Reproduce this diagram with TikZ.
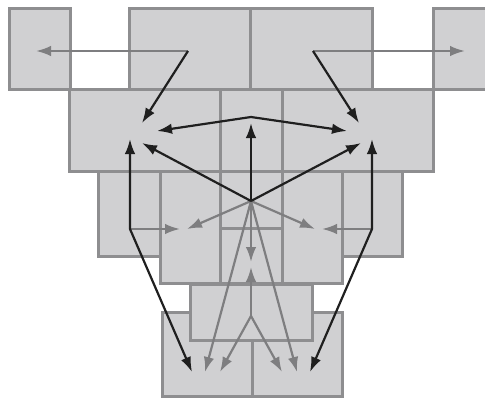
\documentclass[tikz,border=0pt]{standalone}
\usetikzlibrary{arrows.meta}
\definecolor{cellfill}{HTML}{D0D0D2}
\definecolor{cellline}{HTML}{8E8E90}
\definecolor{linkgray}{HTML}{7E7E80}
\definecolor{linkdark}{HTML}{1F1F1F}
\begin{document}
\begin{tikzpicture}[
    x=1pt, y=-1pt,
    >={Latex[length=15pt, width=10.5pt]},
    cell/.style={rectangle, draw=cellline, fill=cellfill, line width=3pt, inner sep=0pt},
    dark/.style={->, draw=linkdark, line width=2.2pt},
    light/.style={->, draw=linkgray, line width=2.2pt}
]
    \useasboundingbox (0,0) rectangle (485,399);

    % Top row
    \node[cell, minimum width=61pt, minimum height=81pt] (a) at (39.5,48.5) {};
    \node[cell, minimum width=121pt, minimum height=81pt] (b) at (189.5,48.5) {};
    \node[cell, minimum width=122pt, minimum height=81pt] (c) at (311,48.5) {};
    \node[cell, minimum width=62pt, minimum height=81pt] (d) at (464,48.5) {};

    % Second row
    \node[cell, minimum width=151pt, minimum height=82pt] (e) at (144.5,130) {};
    \node[cell, minimum width=62pt, minimum height=82pt] (f) at (251,130) {};
    \node[cell, minimum width=151pt, minimum height=82pt] (g) at (357.5,130) {};

    % Third row
    \node[cell, minimum width=62pt, minimum height=85pt] (h) at (129,213.5) {};
    \node[cell, minimum width=60pt, minimum height=85pt] (l) at (372,213.5) {};
    \node[cell, minimum width=60pt, minimum height=112pt] (i) at (190,227) {};
    \node[cell, minimum width=62pt, minimum height=57pt] (j1) at (251,199.5) {};
    \node[cell, minimum width=62pt, minimum height=55pt] (j2) at (251,255.5) {};
    \node[cell, minimum width=60pt, minimum height=112pt] (k) at (312,227) {};

    % Bottom rows
    \node[cell, minimum width=90pt, minimum height=84pt] (n) at (207,354) {};
    \node[cell, minimum width=90pt, minimum height=84pt] (o) at (297,354) {};
    \node[cell, minimum width=122pt, minimum height=56pt] (m) at (251,312) {};

    % Hubs and bends
    \coordinate (bhub) at (188,51);
    \coordinate (chub) at (313,51);
    \coordinate (fpeak) at (251,117);
    \coordinate (jhub) at (251,201);
    \coordinate (hbend) at (130,229);
    \coordinate (lbend) at (372,229);
    \coordinate (mhub) at (251,316);

    % Arrow ends
    \coordinate (a in) at (36,51);
    \coordinate (d in) at (465,51);
    \coordinate (e top) at (142,123);
    \coordinate (e right) at (157,131);
    \coordinate (e low) at (142,143);
    \coordinate (e up) at (130,139);
    \coordinate (g top) at (359,123);
    \coordinate (g left) at (347,131);
    \coordinate (g low) at (361,143);
    \coordinate (g up) at (372,139);
    \coordinate (f up) at (251,123);
    \coordinate (i in) at (187,229);
    \coordinate (k in) at (315,229);
    \coordinate (h in) at (180,229);
    \coordinate (l in) at (322,229);
    \coordinate (j down) at (251,262);
    \coordinate (m up) at (251,267);
    \coordinate (n out) at (192,372);
    \coordinate (n far) at (205,372);
    \coordinate (n mid) at (220,372);
    \coordinate (o mid) at (282,372);
    \coordinate (o far) at (297,372);
    \coordinate (o out) at (310,372);

    % Gray arrows
    \draw[light] (bhub) -- (a in);
    \draw[light] (chub) -- (d in);
    \draw[light] (hbend) -- (h in);
    \draw[light] (lbend) -- (l in);
    \draw[light] (jhub) -- (i in);
    \draw[light] (jhub) -- (k in);
    \draw[light] (jhub) -- (j down);
    \draw[light] (jhub) -- (n far);
    \draw[light] (jhub) -- (o far);
    \draw[light] (mhub) -- (m up);
    \draw[light] (mhub) -- (n mid);
    \draw[light] (mhub) -- (o mid);

    % Black arrows
    \draw[dark] (bhub) -- (e top);
    \draw[dark] (chub) -- (g top);
    \draw[dark, <->] (e right) -- (fpeak) -- (g left);
    \draw[dark] (jhub) -- (e low);
    \draw[dark] (jhub) -- (g low);
    \draw[dark] (jhub) -- (f up);
    \draw[dark, <->] (e up) -- (hbend) -- (n out);
    \draw[dark, <->] (g up) -- (lbend) -- (o out);
\end{tikzpicture}
\end{document}
